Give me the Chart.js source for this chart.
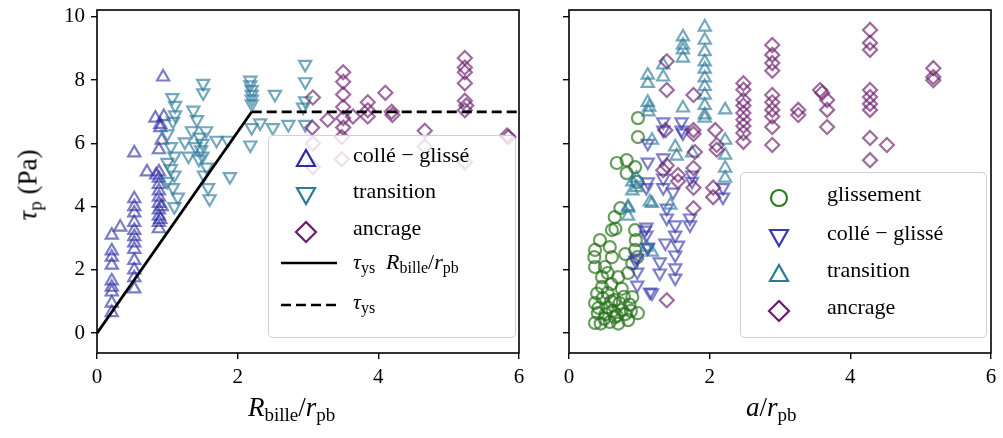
<!DOCTYPE html>
<html>
<head>
<meta charset="utf-8">
<script src="https://cdn.jsdelivr.net/npm/chart.js@4.4.0/dist/chart.umd.min.js"></script>
<style>
  body { margin: 0; background: #fff; }
  #wrap { position: relative; width: 1003px; height: 438px; font-family: "Liberation Serif", serif; }
  canvas { position: absolute; top: 0; }
  .lbl { position: absolute; font-size: 27px; white-space: nowrap; color: #000; }
  .lbl i { font-style: italic; }
  .lbl sub { font-size: 19px; vertical-align: -5px; }
  .legend { position: absolute; background: rgba(255,255,255,0.8); border: 1.5px solid #d0d0d0; border-radius: 5px; }
  .legend svg { position: absolute; }
  .legend span { position: absolute; font-size: 22px; white-space: nowrap; }
  .legend sub { font-size: 16px; vertical-align: -4px; }
</style>
</head>
<body>
<div id="wrap">
  <canvas id="gauche" width="540" height="438" style="left:0"></canvas>
  <canvas id="droite" width="463" height="438" style="left:540px"></canvas>

  <div class="lbl" style="left:-6px; top:168px; transform: rotate(-90deg);"><i>τ</i><sub>p</sub> (Pa)</div>
  <div class="lbl" style="left:248px; top:392px;"><i>R</i><sub>bille</sub>/<i>r</i><sub>pb</sub></div>
  <div class="lbl" style="left:746px; top:392px;"><i>a</i>/<i>r</i><sub>pb</sub></div>

  <div class="legend" style="left:268px; top:135px; width:246px; height:201px;">
    <svg style="left:25px; top:11px" width="24" height="24"><polygon points="12,3 21,19 3,19" fill="none" stroke="#2b2ba3" stroke-width="2.2"/></svg>
    <span style="left:84px; top:6px;">collé − glissé</span>
    <svg style="left:25px; top:47px" width="24" height="24"><polygon points="3,5 21,5 12,21" fill="none" stroke="#2a7a99" stroke-width="2.2"/></svg>
    <span style="left:84px; top:42px;">transition</span>
    <svg style="left:25px; top:84px" width="24" height="24"><polygon points="12,2 22,12 12,22 2,12" fill="none" stroke="#6a1b6c" stroke-width="2.2"/></svg>
    <span style="left:84px; top:79px;">ancrage</span>
    <svg style="left:10px; top:122px" width="60" height="10"><line x1="2" y1="5" x2="58" y2="5" stroke="#000" stroke-width="2.6"/></svg>
    <span style="left:84px; top:113px;"><i>τ</i><sub>ys</sub>&nbsp; <i>R</i><sub>bille</sub>/<i>r</i><sub>pb</sub></span>
    <svg style="left:10px; top:164px" width="60" height="10"><line x1="2" y1="5" x2="58" y2="5" stroke="#000" stroke-width="2.6" stroke-dasharray="10,5"/></svg>
    <span style="left:84px; top:153px;"><i>τ</i><sub>ys</sub></span>
  </div>

  <div class="legend" style="left:740px; top:172px; width:245px; height:164px;">
    <svg style="left:26px; top:13px" width="24" height="24"><circle cx="12" cy="12" r="8" fill="none" stroke="#2a7a1c" stroke-width="2.2"/></svg>
    <span style="left:86px; top:8px;">glissement</span>
    <svg style="left:26px; top:52px" width="24" height="24"><polygon points="3,5 21,5 12,21" fill="none" stroke="#3a3ab0" stroke-width="2.2"/></svg>
    <span style="left:86px; top:47px;">collé − glissé</span>
    <svg style="left:26px; top:89px" width="24" height="24"><polygon points="12,3 21,19 3,19" fill="none" stroke="#2a7a99" stroke-width="2.2"/></svg>
    <span style="left:86px; top:84px;">transition</span>
    <svg style="left:26px; top:126px" width="24" height="24"><polygon points="12,2 22,12 12,22 2,12" fill="none" stroke="#6a1b6c" stroke-width="2.2"/></svg>
    <span style="left:86px; top:121px;">ancrage</span>
  </div>
</div>

<script>
// axis ticks
const xTicks = [0, 2, 4, 6];
const yTicks = [0, 2, 4, 6, 8, 10];

// left panel : x = R_bille / r_pb
const gaucheColleGlisse = [
  [0.21,0.65],[0.21,0.95],[0.21,1.3],[0.21,1.45],[0.21,1.65],[0.21,2.15],[0.21,2.4],[0.21,2.6],[0.21,3.1],[0.33,3.35],
  [0.53,1.4],[0.53,1.75],[0.53,2.0],[0.53,2.3],[0.53,2.65],[0.53,2.85],[0.53,3.05],[0.53,3.25],[0.53,3.5],[0.53,3.8],[0.53,4.0],[0.53,4.25],[0.53,5.7],
  [0.88,3.3],[0.88,3.5],[0.88,3.7],[0.88,3.9],[0.88,4.1],[0.88,4.3],[0.88,4.5],[0.88,4.7],[0.88,4.9],[0.88,5.1],[0.9,3.6],[0.92,4.0],
  [0.71,5.1],[0.83,6.8],[0.95,6.85],[0.9,6.5],[0.92,6.1],[0.88,5.8],[0.94,8.1],[0.9,6.6],[0.84,5.0]
];
const gaucheTransition = [
  [1.07,7.45],[1.11,7.2],[1.11,6.9],[1.08,6.7],[1.0,6.3],[1.05,5.9],[1.1,5.6],[1.0,5.4],[1.05,5.2],[1.1,5.0],[1.0,4.8],[1.08,4.6],[1.15,4.3],[1.1,4.0],
  [1.51,7.9],[1.51,7.6],[1.37,7.05],[1.42,6.75],[1.35,6.4],[1.46,6.2],[1.5,6.0],[1.48,5.8],[1.5,5.6],[1.56,5.25],[1.58,4.6],[1.6,4.25],
  [1.25,6.05],[1.4,5.9],[1.55,6.4],[1.45,5.5],[1.52,5.0],[1.3,5.6],
  [1.7,6.1],[1.86,6.1],[1.89,4.95],
  [2.18,8.0],[2.18,7.85],[2.2,7.7],[2.2,7.55],[2.2,7.4],[2.2,7.25],[2.2,6.5],[2.18,5.95],[2.32,6.65],
  [2.53,7.55],[2.5,6.5],[2.72,6.6],[2.96,6.6],[2.96,8.5],[2.96,7.95],[2.96,7.35],[2.93,7.15]
];
const gaucheAncrage = [
  [3.07,7.45],[3.06,6.5],[3.28,6.75],[3.07,6.0],[3.07,5.25],
  [3.5,8.25],[3.5,7.95],[3.5,7.55],[3.5,7.15],[3.5,6.8],[3.5,6.5],[3.48,6.2],[3.48,5.5],[3.64,6.85],
  [3.85,7.3],[3.85,7.05],[3.85,6.85],[4.1,7.6],[4.19,7.0],[4.2,6.9],[4.66,6.4],[4.66,5.9],
  [5.23,8.7],[5.23,8.4],[5.23,8.25],[5.23,7.9],[5.23,7.35],[5.25,7.2],[5.23,7.05],[5.23,5.4],
  [5.83,6.25],[5.85,6.2]
];
const seuilLineaire = [[0,0],[2.2,7]];
const seuilPlateau = [[2.2,7],[6,7]];

// right panel : x = a / r_pb
const droiteGlissement = [
  [0.37,0.32],[0.41,0.63],[0.37,0.95],[0.55,0.82],[0.65,0.5],[0.75,0.73],[0.84,0.41],[0.98,0.63],[0.55,1.27],[0.65,1.04],
  [0.9,1.14],[0.47,1.77],[0.37,2.09],[0.47,1.46],[0.7,1.77],[0.84,1.9],[0.51,2.09],[0.9,2.2],[0.37,2.63],[0.36,2.4],
  [0.61,2.4],[0.58,2.72],[0.44,2.94],[0.61,3.26],[0.66,3.3],[0.65,3.67],[0.73,3.95],[0.94,3.26],[0.95,2.94],[0.94,2.63],
  [0.97,2.4],[0.68,5.38],[0.82,5.47],[0.82,5.06],[0.94,5.25],[0.97,4.78],[0.98,6.8],[0.98,6.2],
  [0.45,0.3],[0.5,0.45],[0.58,0.35],[0.62,0.7],[0.7,0.3],[0.72,0.95],[0.8,0.6],[0.86,0.9],[0.6,1.0],[0.48,1.1],
  [0.42,0.8],[0.52,0.6],[0.68,0.55],[0.78,1.15],[0.88,0.7],[0.4,1.25],[0.6,1.55],[0.75,1.4],[0.55,1.9],[0.8,2.5]
];
const droiteColleGlisse = [
  [1.34,6.68],[1.34,6.42],[1.6,6.68],[1.6,6.42],[1.12,6.0],[1.12,5.41],[1.12,4.78],[1.1,4.6],[1.34,5.54],[1.34,4.9],
  [1.34,4.6],[1.48,4.46],[1.39,3.95],[1.39,3.64],[1.1,3.35],[1.1,3.1],[1.12,2.69],[1.51,3.42],[1.51,3.1],[1.55,2.78],
  [1.51,2.47],[1.51,2.06],[1.51,1.74],[1.29,2.25],[1.29,1.9],[0.97,2.37],[0.97,1.93],[0.97,1.52],[1.15,1.3],[1.72,3.64],
  [1.72,3.42],[1.75,5.0],[1.75,4.8],[2.19,4.6],[2.19,4.3],[1.62,6.33],[1.08,3.26],[1.12,2.72],[0.94,2.31],[1.18,1.27],[1.37,2.85]
];
const droiteTransition = [
  [1.93,9.68],[1.93,9.27],[1.93,8.9],[1.93,8.58],[1.93,8.35],[1.93,8.07],[1.93,7.8],[1.93,7.53],[1.93,7.2],[1.93,6.9],[1.93,6.8],
  [1.62,9.37],[1.62,9.11],[1.62,8.96],[1.62,8.7],[1.34,8.48],[1.34,8.1],[1.12,8.16],[1.12,7.9],[1.12,7.3],[1.14,7.15],[1.13,7.0],
  [1.62,7.12],[2.22,7.06],[2.22,6.1],[2.22,5.63],[2.22,5.22],[2.22,4.9],[1.51,5.89],[1.53,5.6],[1.75,5.7],[1.18,6.1],
  [0.96,4.9],[0.96,4.6],[1.18,4.1],[0.84,4.0],[1.18,2.56],[1.44,4.05],[0.9,4.78],[0.9,4.5],[1.15,4.15],[0.84,3.95],[0.84,3.7],[1.1,2.72]
];
const droiteAncrage = [
  [1.39,8.6],[1.39,7.69],[1.77,7.53],[1.37,6.42],[1.77,6.42],[1.77,6.3],[2.08,6.42],[2.1,5.95],[2.1,5.8],
  [2.48,7.9],[2.48,7.7],[2.48,7.37],[2.48,7.2],[2.48,6.96],[2.48,6.75],[2.48,6.55],[2.48,6.33],[2.48,6.05],
  [2.89,9.11],[2.89,8.8],[2.89,8.54],[2.89,8.3],[2.89,7.53],[2.89,7.3],[2.89,7.06],[2.89,6.85],[2.89,6.52],[2.89,5.95],
  [3.26,7.06],[3.26,6.9],[3.57,7.69],[3.6,7.6],[3.67,7.37],[3.67,7.06],[3.67,6.52],
  [4.28,9.59],[4.28,9.18],[4.28,8.96],[4.28,7.69],[4.28,7.47],[4.28,7.25],[4.28,7.06],[4.28,6.17],[4.28,5.47],[4.52,5.95],
  [5.18,8.38],[5.18,8.1],[5.18,8.0],
  [1.79,5.73],[1.39,5.3],[1.55,5.0],[1.55,4.8],[1.77,5.22],[1.77,4.6],[2.05,4.6],[2.05,4.3],[1.77,3.95],[1.39,1.04],[1.34,5.15]
];

const pts = arr => arr.map(p => ({ x: p[0], y: p[1] }));

const bleu = 'rgba(43,43,163,0.62)';
const sarcelle = 'rgba(42,122,153,0.65)';
const violet = 'rgba(106,27,108,0.65)';
const vert = 'rgba(34,112,20,0.68)';

function nuage(label, data, color, style, rot, r, order) {
  return {
    type: 'scatter', label, data: pts(data), order,
    pointStyle: style, rotation: rot, pointRadius: r, pointHoverRadius: r,
    pointBorderColor: color, pointBackgroundColor: 'rgba(0,0,0,0)', pointBorderWidth: 2.2
  };
}

// matplotlib style frame on all four sides
const cadre = {
  id: 'cadre',
  afterDatasetsDraw(chart) {
    const a = chart.chartArea, c = chart.ctx;
    c.save();
    c.strokeStyle = '#000';
    c.lineWidth = 1.6;
    c.strokeRect(a.left, a.top, a.right - a.left, a.bottom - a.top);
    c.restore();
  }
};

function echelles(yLabels, yWidth) {
  return {
    x: {
      type: 'linear', min: 0, max: 6,
      afterBuildTicks: s => { s.ticks = xTicks.map(v => ({ value: v })); },
      afterFit: s => { s.height = 85; s.paddingLeft = 0; s.paddingRight = 0; },
      grid: { drawOnChartArea: false, drawTicks: true, tickLength: 6, color: '#000', lineWidth: 1.4 },
      border: { display: false },
      ticks: { color: '#000', font: { family: 'Liberation Serif', size: 21 }, padding: 6, maxRotation: 0 }
    },
    y: {
      type: 'linear', min: -0.63, max: 10.22,
      afterBuildTicks: s => { s.ticks = yTicks.map(v => ({ value: v })); },
      afterFit: s => { s.width = yWidth; s.paddingTop = 0; s.paddingBottom = 0; },
      grid: { drawOnChartArea: false, drawTicks: true, tickLength: 6, color: '#000', lineWidth: 1.4 },
      border: { display: false },
      ticks: { display: yLabels, color: '#000', font: { family: 'Liberation Serif', size: 21 }, padding: 6 }
    }
  };
}

const commun = {
  animation: false, responsive: false,
  plugins: { legend: { display: false }, tooltip: { enabled: false } }
};

new Chart(document.getElementById('gauche'), {
  data: {
    datasets: [
      { type: 'line', label: 'lin', data: pts(seuilLineaire), borderColor: '#000', borderWidth: 2.8, pointRadius: 0, order: 0 },
      { type: 'line', label: 'plateau', data: pts(seuilPlateau), borderColor: '#000', borderWidth: 2.8, borderDash: [10, 5], pointRadius: 0, order: 0 },
      nuage('collé − glissé', gaucheColleGlisse, bleu, 'triangle', 0, 7, 3),
      nuage('transition', gaucheTransition, sarcelle, 'triangle', 180, 7, 2),
      nuage('ancrage', gaucheAncrage, violet, 'rectRot', 0, 7, 1)
    ]
  },
  options: Object.assign({}, commun, {
    layout: { padding: { left: 0, right: 21, top: 10, bottom: 0 } },
    scales: echelles(true, 97)
  }),
  plugins: [cadre]
});

new Chart(document.getElementById('droite'), {
  data: {
    datasets: [
      nuage('glissement', droiteGlissement, vert, 'circle', 0, 6, 4),
      nuage('collé − glissé', droiteColleGlisse, 'rgba(58,58,176,0.65)', 'triangle', 180, 7, 3),
      nuage('transition', droiteTransition, sarcelle, 'triangle', 0, 7, 2),
      nuage('ancrage', droiteAncrage, violet, 'rectRot', 0, 7, 1)
    ]
  },
  options: Object.assign({}, commun, {
    layout: { padding: { left: 0, right: 12, top: 10, bottom: 0 } },
    scales: echelles(false, 29)
  }),
  plugins: [cadre]
});
</script>
</body>
</html>
